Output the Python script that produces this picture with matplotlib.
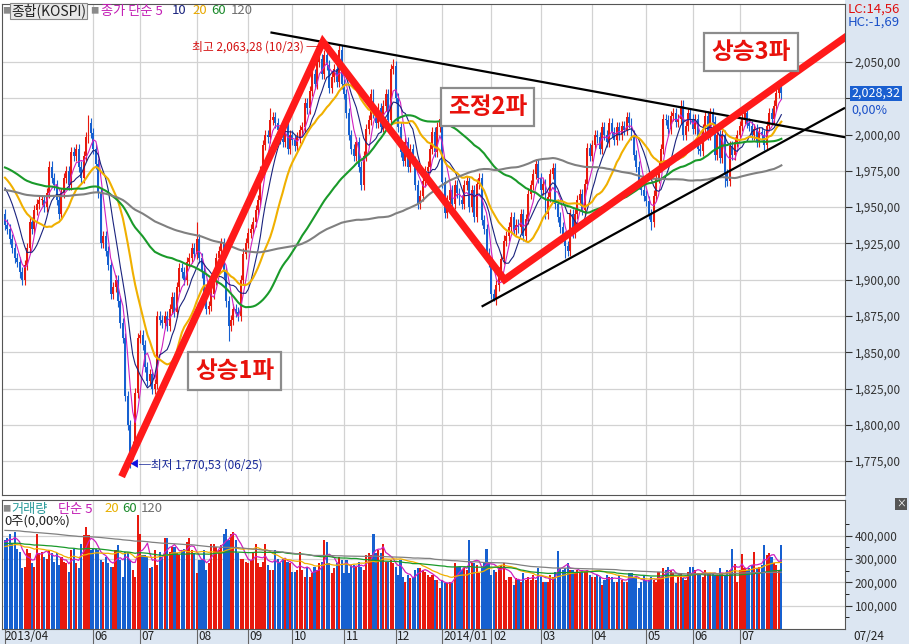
import numpy as np
import pandas as pd
import matplotlib
matplotlib.use('Agg')
import matplotlib.pyplot as plt
from matplotlib.patches import Rectangle

plt.rcParams['font.family'] = ['Noto Sans CJK KR', 'DejaVu Sans']

# ---- daily closes (one list per month) ----
c_1304 = [1938, 1935, 1928, 1922, 1915, 1912, 1905, 1900, 1910, 1922, 1940, 1935, 1948, 1952, 1955]
c_1305 = [1955, 1950, 1960, 1978, 1970, 1965, 1955, 1945, 1960, 1970, 1975, 1965, 1988, 1985, 1990,
          1978, 1970, 1985, 1998, 2008, 2001]
c_1306 = [1990, 1980, 1960, 1925, 1930, 1920, 1910, 1890, 1895, 1900, 1885, 1870, 1860, 1820, 1800,
          1780, 1785, 1822, 1860]
c_1307 = [1862, 1855, 1840, 1830, 1835, 1825, 1828, 1875, 1872, 1870, 1875, 1868, 1880, 1888, 1878,
          1895, 1908, 1905, 1900, 1912, 1915, 1922, 1918]
c_1308 = [1928, 1915, 1905, 1888, 1880, 1882, 1890, 1900, 1915, 1920, 1925, 1905, 1885, 1868, 1872,
          1880, 1878, 1875, 1900, 1918, 1925]
c_1309 = [1932, 1935, 1940, 1948, 1955, 1975, 1993, 2000, 1998, 2010, 2012, 2008, 2003, 1997, 1995,
          2006, 1990, 2000]
c_1310 = [1996, 1992, 1998, 2003, 2005, 2022, 2018, 2030, 2042, 2035, 2050, 2052, 2042, 2055, 2048,
          2032, 2040, 2045, 2036, 2058, 2035]
c_1311 = [2028, 2015, 2000, 1990, 1985, 1995, 1978, 1965, 1985, 2004, 2010, 2028, 2015, 2008, 2018,
          2005, 2020, 2028, 2010, 2045, 2047]
c_1312 = [2025, 2005, 1988, 1982, 1995, 1978, 1990, 1982, 1965, 1952, 1958, 1968, 1975, 1978, 1990,
          2002, 1988, 2005, 2011]
c_1401 = [1967, 1946, 1955, 1962, 1952, 1965, 1960, 1955, 1952, 1965, 1968, 1950, 1962, 1943, 1966,
          1970, 1941, 1935, 1918, 1912]
c_1402 = [1890, 1886, 1896, 1905, 1914, 1927, 1930, 1936, 1943, 1934, 1938, 1936, 1945, 1930, 1942,
          1959, 1965, 1973, 1980, 1970]
c_1403 = [1962, 1966, 1945, 1957, 1973, 1977, 1952, 1943, 1936, 1930, 1923, 1920, 1945, 1932, 1945,
          1955, 1959, 1948, 1966, 1991, 1985]
c_1404 = [1993, 2000, 1998, 1990, 2005, 2000, 1995, 2008, 2002, 1996, 2005, 2000, 2006, 2003, 2012,
          2008, 2000, 1986, 1978, 1966, 1962, 1958]
c_1405 = [1954, 1945, 1940, 1958, 1970, 1978, 1990, 2011, 2010, 2004, 2013, 2015, 2009, 2011, 2020,
          2000, 2006, 2015, 2011]
c_1406 = [2004, 2011, 1990, 1989, 2004, 2013, 2000, 2015, 2009, 1986, 2000, 1984, 2000, 1973, 1968,
          1992, 1986, 1995, 2000]
c_1407 = [2006, 2011, 2015, 2008, 2006, 2000, 2004, 1995, 2002, 2000, 1993, 2006, 2015, 2011, 2020,
          2029, 2033, 2028.32]

# ---- daily volume, thousands of shares ----
v_1304 = [381, 388, 409, 366, 416, 345, 331, 260, 267, 345, 324, 281, 267, 409, 324]
v_1305 = [331, 310, 302, 338, 324, 288, 324, 274, 310, 288, 281, 246, 338, 345, 281, 260, 366, 402,
          437, 402, 338]
v_1306 = [341, 345, 338, 295, 288, 310, 281, 267, 267, 338, 359, 295, 224, 331, 324, 295, 253, 224, 487]
v_1307 = [409, 317, 317, 310, 260, 267, 338, 274, 331, 310, 388, 388, 331, 352, 352, 324, 317, 338,
          345, 373, 388, 338, 324]
v_1308 = [239, 295, 295, 338, 253, 281, 366, 366, 352, 338, 359, 409, 430, 381, 409, 416, 381, 324,
          302, 302, 288]
v_1309 = [281, 295, 324, 366, 281, 267, 288, 366, 274, 253, 253, 338, 302, 281, 302, 295, 288, 281]
v_1310 = [246, 246, 253, 331, 253, 224, 267, 224, 239, 267, 253, 281, 288, 381, 373, 281, 239, 260,
          281, 310, 295]
v_1311 = [239, 295, 239, 274, 274, 267, 288, 267, 253, 317, 324, 317, 409, 324, 338, 324, 366, 288,
          288, 295, 281]
v_1312 = [267, 231, 295, 224, 203, 231, 217, 224, 253, 260, 260, 253, 246, 231, 224, 231, 210, 210, 175]
v_1401 = [210, 196, 196, 203, 196, 281, 267, 267, 253, 260, 253, 383, 281, 281, 274, 239, 260, 281,
          341, 281]
v_1402 = [231, 253, 246, 267, 274, 281, 210, 224, 224, 189, 217, 210, 203, 239, 210, 224, 210, 231,
          210, 260]
v_1403 = [224, 203, 203, 203, 231, 224, 246, 335, 260, 253, 260, 281, 253, 253, 246, 253, 246, 253,
          246, 253, 231]
v_1404 = [224, 224, 231, 224, 189, 210, 231, 224, 224, 203, 203, 231, 210, 203, 203, 239, 239, 224,
          224, 175, 203, 227]
v_1405 = [210, 210, 224, 210, 203, 246, 224, 260, 253, 267, 253, 239, 196, 224, 239, 217, 210, 246, 267]
v_1406 = [267, 253, 239, 231, 224, 253, 239, 239, 239, 231, 231, 260, 239, 231, 253, 253, 341, 277, 203]
v_1407 = [253, 321, 260, 253, 260, 274, 328, 260, 267, 274, 362, 317, 324, 310, 281, 274, 253, 359]

first_open = 1945
wick = 3.5
high_marks = {34: 2013.6, 78: 1940, 108: 2018, 131: 2063.28, 136: 2062, 158: 2052}
low_marks = {51: 1770.53, 91: 1858, 199: 1885.5, 228: 1915, 263: 1934, 293: 1964}

# MA values at the left edge (history before the window)
ma_seed = {5: 1942, 10: 1966, 20: 1972, 60: 1978, 120: 1962}
vma_seed = {5: 373, 20: 352, 60: 366, 120: 423}

month_idx = [0, 36, 55, 78, 99, 117, 138, 159, 178, 198, 218, 239, 261, 280, 299]
month_lab = ['2013/04', '06', '07', '08', '09', '10', '11', '12', '2014/01', '02', '03', '04',
             '05', '06', '07']

# trend lines and wave lines: (index, price)
top_line = ([108.5, 341.5], [2070.3, 1998.3])
low_line = ([194.4, 341.5], [1881.8, 2018.1])
wave_x = [48.1, 129.4, 203.3, 341.5]
wave_y = [1766.5, 2064.0, 1900.0, 2066.5]

RED = '#e8190e'
BLUE = '#1660d0'
W, H = 909, 644

close = np.array(c_1304 + c_1305 + c_1306 + c_1307 + c_1308 + c_1309 + c_1310 + c_1311 + c_1312 +
                 c_1401 + c_1402 + c_1403 + c_1404 + c_1405 + c_1406 + c_1407, dtype=float)
vol = np.array(v_1304 + v_1305 + v_1306 + v_1307 + v_1308 + v_1309 + v_1310 + v_1311 + v_1312 +
               v_1401 + v_1402 + v_1403 + v_1404 + v_1405 + v_1406 + v_1407, dtype=float) * 1000
idx = np.arange(len(close))
opens = np.r_[first_open, close[:-1]]
high = np.maximum(opens, close) + wick
low = np.minimum(opens, close) - wick
for k, v in high_marks.items(): high[k] = v
for k, v in low_marks.items(): low[k] = v
colors = np.where(close >= opens, RED, BLUE)


def sma(values, n, seed):
    s = pd.Series(np.r_[np.full(n - 1, seed), values])
    return s.rolling(n).mean().to_numpy()[n - 1:]


def fx(x): return x / W
def fy(y): return 1 - y / H


fig = plt.figure(figsize=(W / 100, H / 100), dpi=100)
fig.patches.append(Rectangle((fx(845), 0), fx(64), 1, transform=fig.transFigure,
                             fc='#dce6f2', ec='none', zorder=-5))
fig.patches.append(Rectangle((0, 0), 1, 14 / H, transform=fig.transFigure,
                             fc='#dce6f2', ec='none', zorder=-5))

ax = fig.add_axes([fx(2), fy(495), fx(843), 491 / H])
axv = fig.add_axes([fx(2), fy(629), fx(843), 129 / H])

xlim = (-1.2, 341.9)
grid_kw = dict(color='#d2d2d2', lw=0.9)

# ---- price panel ----
ax.set_xlim(*xlim)
ax.set_ylim(1751.6, 2090)
ax.set_xticks(month_idx[1:])
ax.tick_params(axis='x', length=0, labelbottom=False)
yt = list(range(1775, 2051, 25))
ax.yaxis.tick_right()
ax.set_yticks(yt)
# the 2,025 label sits under the current-price box, as in the source
ax.set_yticklabels(['' if v == 2025 else f'{v:,.2f}'.replace('.', ',') for v in yt])
ax.tick_params(axis='y', direction='out', length=5, pad=2, labelsize=8.5, colors='#333333')
ax.grid(True, **grid_kw)
ax.set_axisbelow(True)
for s in ax.spines.values():
    s.set_color('#555555')

ax.vlines(idx, low, high, colors=colors, lw=0.8, zorder=2)
ax.bar(idx, np.maximum(np.abs(close - opens), 0.8), bottom=np.minimum(opens, close),
       width=0.8, color=colors, lw=0, zorder=2)

ma_style = {5: ('#d020c0', 0.8), 10: ('#1a237e', 0.8), 20: ('#f0b000', 1.5),
            60: ('#1a9a2a', 1.5), 120: ('#808080', 1.5)}
for n, (col, lw) in ma_style.items():
    ax.plot(idx, sma(close, n, ma_seed[n]), color=col, lw=lw, zorder=3)

ax.plot(*top_line, color='black', lw=1.6, zorder=4)
ax.plot(*low_line, color='black', lw=1.6, zorder=4)
ax.plot(wave_x, wave_y, color='#ff1a1a', lw=5.2, zorder=5, solid_joinstyle='miter')

box = dict(boxstyle='square,pad=0.3', fc='white', ec='#8c8c8c', lw=1.6)
for x, y, s in [(93.5, 1837.0, '상승1파'), (196.3, 2019.0, '조정2파'), (303.7, 2056.9, '상승3파')]:
    ax.text(x, y, s, ha='center', va='center', fontsize=17, fontweight='bold',
            color='#e8120c', bbox=box, zorder=6)

ax.text(127.6, 2060.3, '최고 2,063,28 (10/23) ─', ha='right', va='center', fontsize=8.5,
        color='#d41010', zorder=6)
ax.text(50.6, 1772.3, '◀', ha='left', va='center', fontsize=6.5, color='#1010e0', zorder=6)
ax.text(54.4, 1772.3, '─최저 1,770,53 (06/25)', ha='left', va='center', fontsize=8.5,
        color='#1a2a9a', zorder=6)

yax = ax.get_yaxis_transform()
ax.text(1.008, close[-1], f'{close[-1]:,.2f}'.replace('.', ','), transform=yax, ha='left',
        va='center', fontsize=9, color='white', clip_on=False,
        bbox=dict(boxstyle='square,pad=0.1', fc='#1a5fd0', ec='none'))
ax.text(1.008, 2017.0, '0,00%', transform=yax, ha='left', va='center', fontsize=9,
        color='#1a50c8', clip_on=False)

# ---- volume panel ----
axv.set_xlim(*xlim)
axv.set_ylim(0, 553000)
axv.set_xticks(month_idx[1:])
axv.tick_params(axis='x', length=0, labelbottom=False)
axv.yaxis.tick_right()
vt = [100000, 200000, 300000, 400000]
axv.set_yticks(vt)
axv.set_yticklabels([f'{v:,}' for v in vt])
axv.set_yticks([50000, 150000, 250000, 350000, 450000], minor=True)
axv.tick_params(axis='y', direction='out', length=5, pad=2, labelsize=8.5, colors='#333333')
axv.tick_params(axis='y', which='minor', length=3)
axv.grid(True, **grid_kw)
axv.set_axisbelow(True)
for s in axv.spines.values():
    s.set_color('#555555')

axv.bar(idx, vol, width=0.85, color=colors, lw=0, zorder=2)
vma_style = {5: '#d020c0', 20: '#f0b000', 60: '#1a9a2a', 120: '#808080'}
for n, col in vma_style.items():
    axv.plot(idx, sma(vol, n, vma_seed[n] * 1000), color=col, lw=0.9, zorder=3)

xax = axv.get_xaxis_transform()
for i, lab in zip(month_idx, month_lab):
    xi = max(i, xlim[0])
    off = 0.6 if i > 0 else 0.0
    axv.plot([xi, xi], [0, -0.11], transform=xax, color='#666666', lw=0.8, clip_on=False)
    axv.text(xi + off, -0.062, lab, transform=xax, ha='left', va='center', fontsize=8.5,
             color='#222222')

# ---- header texts ----
fig.text(fx(2), fy(11), '■', fontsize=6, color='#8a8a8a', va='center')
fig.patches.append(Rectangle((fx(10), fy(19)), fx(77), 16 / H, transform=fig.transFigure,
                             fc='#e8e8e8', ec='#8a8a8a', lw=0.8, zorder=3))
fig.text(fx(48.5), fy(11), '종합(KOSPI)', fontsize=10, color='#222222', ha='center', va='center',
         zorder=4)
fig.text(fx(90), fy(11), '■', fontsize=6, color='#8a8a8a', va='center')
for x, s, col in [(101, '종가 단순 5', '#c21cb4'), (172, '10', '#1a237e'), (192, '20', '#e8a800'),
                  (211, '60', '#1a8a2a'), (231, '120', '#707070')]:
    fig.text(fx(x), fy(11), s, fontsize=9.5, color=col, va='center')

fig.text(fx(2), fy(509), '■', fontsize=6, color='#8a8a8a', va='center')
for x, s, col in [(11, '거래량', '#2a9a9a'), (58, '단순 5', '#c21cb4'), (104, '20', '#e8b000'),
                  (122, '60', '#1a8a2a'), (141, '120', '#707070')]:
    fig.text(fx(x), fy(509), s, fontsize=9.5, color=col, va='center')
fig.text(fx(4), fy(521), '0주(0,00%)', fontsize=9.5, color='#222222', va='center')

fig.text(fx(848), fy(9), 'LC:14,56', fontsize=9.5, color='#e01010', va='center')
fig.text(fx(848), fy(22), 'HC:-1,69', fontsize=9.5, color='#1a50c8', va='center')
fig.text(fx(853), fy(637), '07/24', fontsize=8.5, color='#222222', va='center')
fig.text(fx(901), fy(504), '×', fontsize=7, color='white', ha='center', va='center',
         bbox=dict(boxstyle='square,pad=0.1', fc='#555555', ec='none'))

fig.savefig('out.png', dpi=100)
